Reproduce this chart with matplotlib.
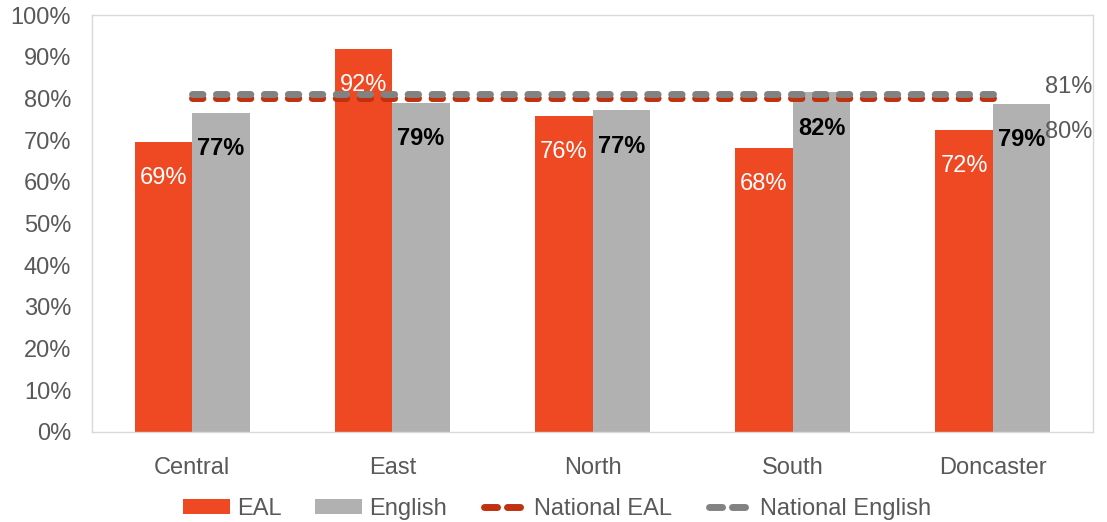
import matplotlib
matplotlib.use("Agg")
import matplotlib.pyplot as plt
import numpy as np
from matplotlib.patches import Patch
from matplotlib.lines import Line2D
from matplotlib.legend_handler import HandlerLine2D

plt.rcParams['font.family'] = ['Liberation Sans', 'DejaVu Sans']

categories = ["Central", "East", "North", "South", "Doncaster"]
eal = [69.5, 91.8, 75.8, 68.1, 72.4]
english = [76.5, 79.0, 77.2, 81.5, 78.7]
eal_labels = ["69%", "92%", "76%", "68%", "72%"]
english_labels = ["77%", "79%", "77%", "82%", "79%"]
national_eal = [80.0, 80.0, 80.0, 80.0, 80.0]
national_english = [81.0, 81.0, 81.0, 81.0, 81.0]
yticks = [0, 10, 20, 30, 40, 50, 60, 70, 80, 90, 100]

RED = "#EF4923"
GRAY = "#B1B1B1"
NRED = "#C0310F"
NGRAY = "#828282"
TXT = "#595959"

fig = plt.figure(figsize=(11.07, 5.22), dpi=100)
ax = fig.add_axes([92/1107, 1-432/522, (1093-92)/1107, (432-15)/522])

x = np.arange(len(categories))
w = 0.2875
ax.bar(x - w/2, eal, w, color=RED, zorder=2)
ax.bar(x + w/2, english, w, color=GRAY, zorder=2)

dash = (0, (1.5, 1.95))
lw = 5.0
ax.plot(x, national_eal, color=NRED, lw=lw, linestyle=dash, dash_capstyle='round', zorder=3)
ax.plot(x, national_english, color=NGRAY, lw=lw, linestyle=dash, dash_capstyle='round', zorder=4)

for i in range(len(categories)):
    ax.annotate(eal_labels[i], (x[i] - w/2, eal[i]), xytext=(0, -36), textcoords='offset pixels',
                ha='center', va='center', color='white', fontsize=17, zorder=5)
    ax.annotate(english_labels[i], (x[i] + w/2, english[i]), xytext=(0, -36), textcoords='offset pixels',
                ha='center', va='center', color='black', fontsize=17, fontweight='bold', zorder=5)

ax.annotate("81%", (x[-1], national_english[-1]), xytext=(52, 7), textcoords='offset pixels',
            ha='left', va='center', color=TXT, fontsize=17, zorder=5)
ax.annotate("80%", (x[-1], national_eal[-1]), xytext=(52, -34), textcoords='offset pixels',
            ha='left', va='center', color=TXT, fontsize=17, zorder=5)

ax.set_xlim(-0.5, len(categories) - 0.5)
ax.set_ylim(0, 100)
ax.set_yticks(yticks)
ax.set_yticklabels([f"{t}%" for t in yticks])
ax.set_xticks(x)
ax.set_xticklabels(categories)
ax.tick_params(axis='both', length=0, labelsize=17, colors=TXT)
ax.tick_params(axis='y', pad=15)
ax.tick_params(axis='x', pad=18)
for s in ax.spines.values():
    s.set_color("#D9D9D9")
    s.set_linewidth(1.0)

ldash = (0, (1.88, 1.43))
h_eal_line = Line2D([], [], color=NRED, lw=lw, linestyle=ldash, dash_capstyle='round', label="National EAL")
h_eng_line = Line2D([], [], color=NGRAY, lw=lw, linestyle=ldash, dash_capstyle='round', label="National English")
handles = [
    Patch(facecolor=RED, edgecolor='none', label="EAL"),
    Patch(facecolor=GRAY, edgecolor='none', label="English"),
    h_eal_line,
    h_eng_line,
]
hmap = {h_eal_line: HandlerLine2D(numpoints=2, marker_pad=0.15),
        h_eng_line: HandlerLine2D(numpoints=2, marker_pad=0.15)}
leg = fig.legend(handles=handles, handler_map=hmap, loc='center', bbox_to_anchor=(557/1107, 1-509/522), ncol=4,
                 frameon=False, fontsize=17, handlelength=2.0, handleheight=0.6,
                 handletextpad=0.3, columnspacing=1.4, labelcolor=TXT)

fig.savefig("out.png", dpi=100)
